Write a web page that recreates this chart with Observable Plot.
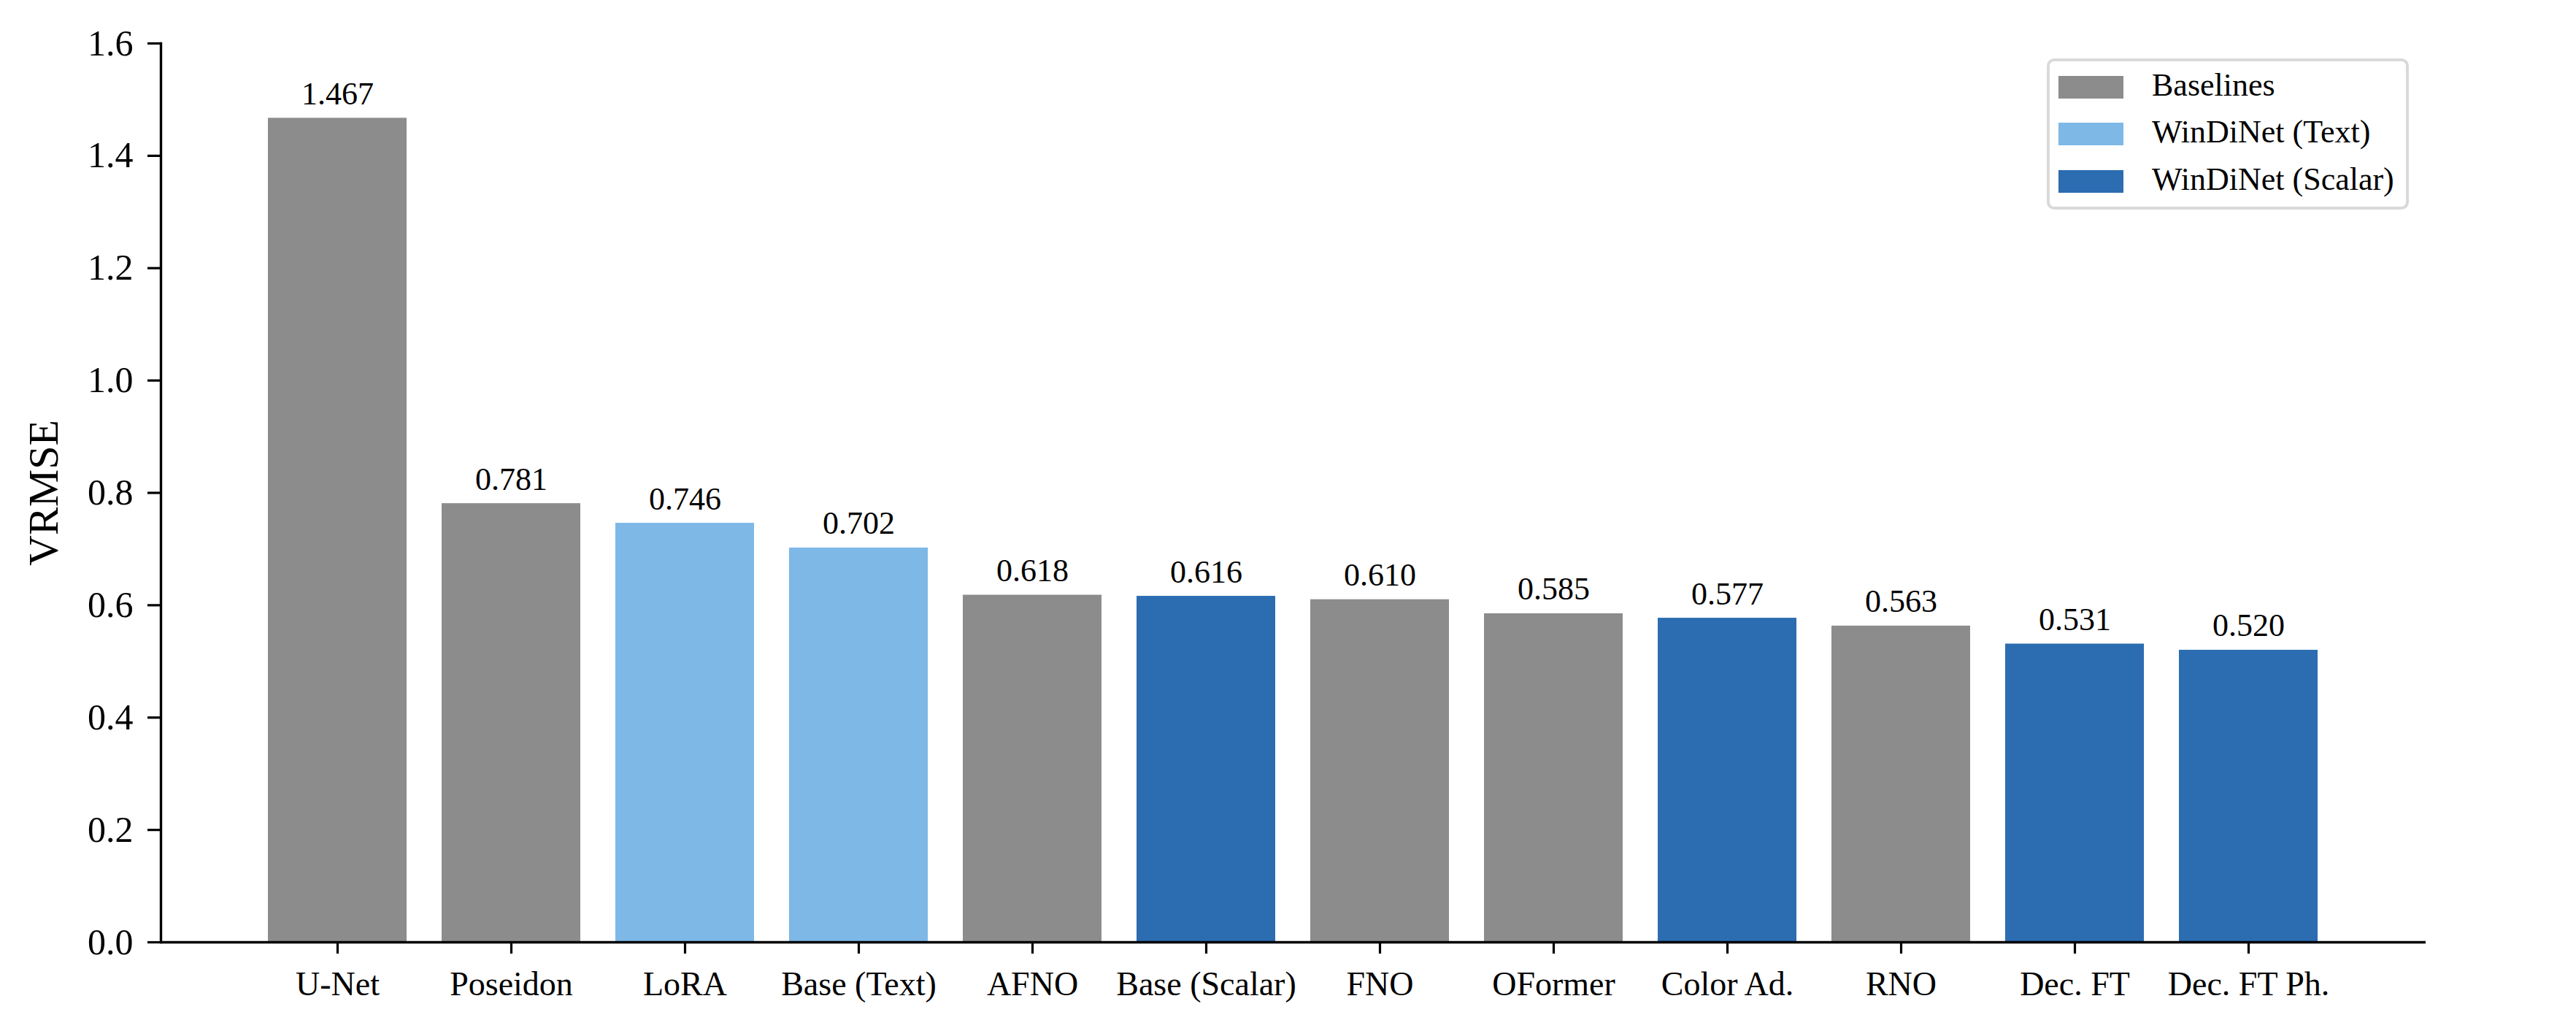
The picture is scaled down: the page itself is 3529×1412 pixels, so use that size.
<!DOCTYPE html>
<html>
<head>
<meta charset="utf-8">
<script src="https://cdn.jsdelivr.net/npm/d3@7"></script>
<script src="https://cdn.jsdelivr.net/npm/@observablehq/plot@0.6"></script>
<style>
  html, body { margin: 0; padding: 0; background: #fff; }
  #wrap { position: relative; width: 3529px; height: 1412px; font-family: "Liberation Serif", "Times New Roman", serif; }
  #legend { position: absolute; left: 2804px; top: 80px; width: 496px; height: 207px; box-sizing: border-box;
    border: 4px solid #d9d9d9; border-radius: 10px; background: #fff; }
  .row { position: absolute; left: 12px; height: 31px; }
  .sw { position: absolute; left: 0; top: 0; width: 89px; height: 31px; }
  .lab { position: absolute; left: 128px; top: -9px; font-size: 44px; line-height: 44px; white-space: nowrap; color: #000; }
</style>
</head>
<body>
<div id="wrap"></div>
<script>
const categories = ["U-Net","Poseidon","LoRA","Base (Text)","AFNO","Base (Scalar)","FNO","OFormer","Color Ad.","RNO","Dec. FT","Dec. FT Ph."];
const values = [1.467,0.781,0.746,0.702,0.618,0.616,0.610,0.585,0.577,0.563,0.531,0.520];
const groups = ["Baselines","Baselines","WinDiNet (Text)","WinDiNet (Text)","Baselines","WinDiNet (Scalar)","Baselines","Baselines","WinDiNet (Scalar)","Baselines","WinDiNet (Scalar)","WinDiNet (Scalar)"];
const legendLabels = ["Baselines","WinDiNet (Text)","WinDiNet (Scalar)"];
const legendColors = ["#8c8c8c","#7db8e7","#2c6cb0"];
const yTicks = [0,0.2,0.4,0.6,0.8,1.0,1.2,1.4,1.6];
const yLabel = "VRMSE";

const data = categories.map((c,i)=>({name:c, value:values[i], group:groups[i]}));

const chart = Plot.plot({
  width: 3529,
  height: 1412,
  marginLeft: 220,
  marginRight: 206,
  marginTop: 59,
  marginBottom: 122,
  style: {fontFamily: '"Liberation Serif", "Times New Roman", serif', background: "#fff"},
  x: {domain: categories, paddingInner: 0.2, paddingOuter: 0.6, label: null},
  y: {domain: [0, 1.6], label: yLabel, labelArrow: "none"},
  color: {domain: legendLabels, range: legendColors},
  marks: [
    Plot.barY(data, {x: "name", y: "value", fill: "group"}),
    Plot.text(data, {x: "name", y: "value", text: d => d3.format(".3f")(d.value), lineAnchor: "bottom", dy: -19, fontSize: 44, fill: "#000"}),
    Plot.axisY({ticks: yTicks, tickFormat: d3.format(".1f"), tickSize: 18, tickPadding: 20, fontSize: 50, strokeWidth: 3.2, label: yLabel, labelArrow: "none", labelAnchor: "center", labelOffset: 183}),
    Plot.axisX({tickSize: 16, tickPadding: 24, fontSize: 46, strokeWidth: 3.2, label: null}),
    Plot.ruleY([0], {strokeWidth: 3.4, stroke: "#000"}),
    Plot.frame({anchor: "left", strokeWidth: 3.4, stroke: "#000"})
  ]
});
const wrap = document.getElementById("wrap");
wrap.appendChild(chart);
// y label: larger, no arrow
chart.querySelectorAll("g[aria-label='y-axis label'] text").forEach(t => {
  t.setAttribute("font-size", 58);
  t.textContent = yLabel;
});

const legend = document.createElement("div");
legend.id = "legend";
legendLabels.forEach((l, i) => {
  const row = document.createElement("div");
  row.className = "row";
  row.style.top = (20 + i * 64.3) + "px";
  const sw = document.createElement("div");
  sw.className = "sw";
  sw.style.background = legendColors[i];
  const lab = document.createElement("div");
  lab.className = "lab";
  lab.textContent = l;
  row.appendChild(sw); row.appendChild(lab);
  legend.appendChild(row);
});
wrap.appendChild(legend);
</script>
</body>
</html>
